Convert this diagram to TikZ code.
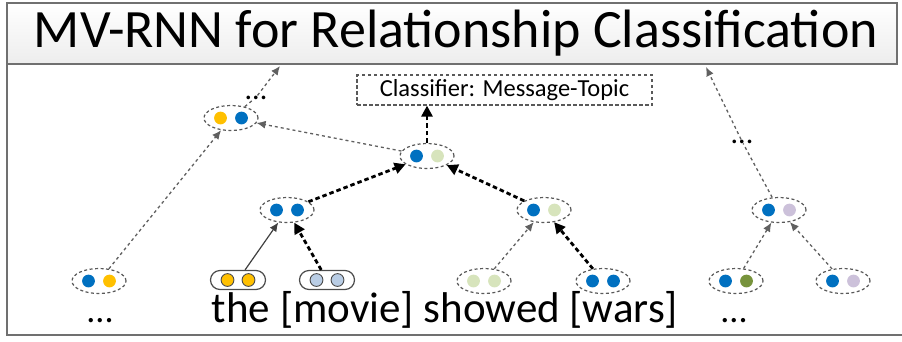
\documentclass[tikz,border=0pt]{standalone}
\usepackage{fontspec}
\setmainfont{Carlito}
\usetikzlibrary{shapes.geometric,arrows.meta,calc}
\definecolor{dblue}{HTML}{0070C0}
\definecolor{dyel}{HTML}{FFC000}
\definecolor{lgreen}{HTML}{D7E4BC}
\definecolor{olive}{HTML}{77933C}
\definecolor{lav}{HTML}{CCC1DA}
\definecolor{lblue}{HTML}{B9CDE5}
\definecolor{frame}{HTML}{707070}
\newcommand\dotpair[5]{%
  \node[#5] (#1) at (#2) {};
  \fill[#3] ($(#1)+(-10.5,0)$) circle (6.4pt);
  \fill[#4] ($(#1)+(10.5,0)$) circle (6.4pt);
}
\tikzset{
  grp/.style={ellipse, draw=gray!70!black, line width=1.2pt, dash pattern=on 3pt off 2.5pt, minimum width=54pt, minimum height=25pt, inner sep=0pt},
  wordbox/.style={rectangle, rounded corners=9.5pt, draw=gray!60!black, line width=1.2pt, minimum width=55pt, minimum height=19pt, inner sep=0pt},
  ring/.style={draw=gray!60!black, line width=0.9pt},
  thin/.style={draw=gray!75!black, line width=1.3pt, dash pattern=on 3pt off 3pt, -{Latex[length=9pt,width=8pt]}},
  thinline/.style={draw=gray!75!black, line width=1.3pt, dash pattern=on 3pt off 3pt},
  thick/.style={draw=black, line width=2.8pt, dash pattern=on 4.5pt off 3pt, -{Triangle[length=11pt,width=11pt]}},
  solidarr/.style={draw=gray!50!black, line width=1.2pt, -{Latex[length=9pt,width=8pt]}},
  txt/.style={inner sep=0pt, font=\fontsize{43}{46}\selectfont},
  dots/.style={inner sep=0pt, font=\fontsize{30}{34}\selectfont},
  bdots/.style={inner sep=0pt, font=\fontsize{36}{40}\selectfont},
}
\begin{document}
\begin{tikzpicture}[x=1pt,y=-1pt]
\useasboundingbox (0,0) rectangle (902,341);
% frame
\draw[frame, line width=2pt] (7,63) -- (7,335) -- (902,335);
\node[draw=frame, line width=2pt, top color=white, bottom color=gray!14, minimum width=890pt, minimum height=61pt, inner sep=0pt] (titlebox) at (451.5,33) {};
\node[inner sep=0pt, font=\fontsize{54}{58}\selectfont] (title) at (456,33) {MV-RNN for Relationship Classification};
% classifier
\node[draw=gray!70!black, line width=1.2pt, dash pattern=on 3.5pt off 2.5pt, minimum width=295pt, minimum height=30pt, inner sep=0pt, font=\fontsize{24.5}{28}\selectfont] (cls) at (504.5,90) {Classifier: Message-Topic};
% nodes
\dotpair{L0}{99,281}{dblue}{dyel}{grp}
\dotpair{L1}{231,118}{dyel}{dblue}{grp}
\dotpair{R}{427,156}{dblue}{lgreen}{grp}
\dotpair{A}{287,210}{dblue}{dblue}{grp}
\dotpair{B}{544,210}{dblue}{lgreen}{grp}
\dotpair{the}{238,280}{dyel,ring}{dyel,ring}{wordbox}
\dotpair{movie}{327,280}{lblue,ring}{lblue,ring}{wordbox}
\dotpair{showed}{484,281}{lgreen}{lgreen}{grp}
\dotpair{wars}{603,281}{dblue}{dblue}{grp}
\dotpair{C}{779,210}{dblue}{lav}{grp}
\dotpair{C1}{736,281}{dblue}{olive}{grp}
\dotpair{C2}{843,281}{dblue}{lav}{grp}
% ellipsis markers
\node[dots, anchor=base] (e1) at (256,99) {...};
\node[dots, anchor=base] (e2) at (742,143) {...};
\coordinate (t1) at (280,66);
\coordinate (t2) at (706,67);
% text
\node[bdots, anchor=base] (e0) at (100,322) {...};
\node[txt, anchor=base] (words) at (445,322) {the [movie] showed [wars]};
\node[bdots, anchor=base] (e3) at (734,322) {...};
% connectors
\draw[thin] (L0) -- (L1);
\draw[thin] (R) -- (L1);
\draw[thinline] (L1) -- (e1);
\draw[thin] (e1) -- (t1);
\draw[thick] (R) -- (R |- cls.south);
\draw[thick] (A) -- (R);
\draw[thick] (B) -- (R);
\draw[solidarr] (the) -- (A);
\draw[thick] (movie) -- (A);
\draw[thin] (showed) -- (B);
\draw[thick] (wars) -- (B);
\draw[thin] (C1) -- (C);
\draw[thin] (C2) -- (C);
\draw[thinline] (C) -- (e2);
\draw[thin] (e2) -- (t2);
\end{tikzpicture}
\end{document}
